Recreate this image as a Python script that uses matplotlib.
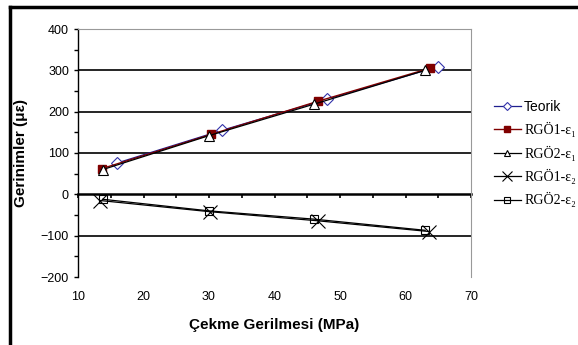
import numpy as np
import matplotlib
matplotlib.use("Agg")
import matplotlib.pyplot as plt
from matplotlib import font_manager
from matplotlib.lines import Line2D

# --- data ---
x_teorik = [16.0, 32.0, 48.0, 65.0]
y_teorik = [76, 155, 230, 309]

x_rgo1_e1 = [13.6, 30.3, 46.6, 63.7]
y_rgo1_e1 = [62, 145, 225, 305]

x_rgo2_e1 = [13.8, 30.0, 46.0, 63.0]
y_rgo2_e1 = [60, 142, 218, 300]

x_rgo1_e2 = [13.4, 30.1, 46.6, 63.6]
y_rgo1_e2 = [-15, -42, -64, -90]

x_rgo2_e2 = [13.8, 30.0, 46.0, 63.0]
y_rgo2_e2 = [-12, -40, -60, -87]

xticks = [10, 20, 30, 40, 50, 60, 70]
yticks = [-200, -100, 0, 100, 200, 300, 400]

names = {f.name for f in font_manager.fontManager.ttflist}
narrow = "Liberation Sans Narrow" if "Liberation Sans Narrow" in names else "Liberation Sans"

fig = plt.figure(figsize=(5.78, 3.45), dpi=100)
ax = fig.add_axes([78 / 578, 68 / 345, 393 / 578, 248 / 345])

ax.plot(x_teorik, y_teorik, color="#1f1f8f", lw=0.9, marker="D", ms=6,
        mfc="white", mec="#3333aa", mew=0.8, label="Teorik", zorder=3)
ax.plot(x_rgo1_e1, y_rgo1_e1, color="#800000", lw=1.0, marker="s", ms=6,
        mfc="#800000", mec="#800000", label="RGÖ1-ε₁", zorder=4)
ax.plot(x_rgo2_e1, y_rgo2_e1, color="black", lw=0.9, marker="^", ms=7,
        mfc="white", mec="black", mew=0.8, label="RGÖ2-ε₁", zorder=5)
ax.plot(x_rgo1_e2, y_rgo1_e2, color="black", lw=0.9, marker="x", ms=10,
        mec="black", mew=0.8, label="RGÖ1-ε₂", zorder=4)
ax.plot(x_rgo2_e2, y_rgo2_e2, color="black", lw=0.9, marker="s", ms=6,
        mfc="none", mec="black", mew=0.8, label="RGÖ2-ε₂", zorder=5)

ax.set_xlim(10, 70)
ax.set_ylim(-200, 400)

# horizontal gridlines
for v in [-100, 100, 200, 300]:
    ax.axhline(v, color="black", lw=1.2, zorder=1)

# spines
ax.spines["left"].set_color("black")
ax.spines["left"].set_linewidth(1.0)
ax.spines["top"].set_color("#999999")
ax.spines["right"].set_color("#999999")
ax.spines["bottom"].set_position(("data", 0))
ax.spines["bottom"].set_linewidth(1.8)
ax.spines["bottom"].set_zorder(2)

ax.set_xticks(np.arange(10, 71, 5))
ax.tick_params(axis="x", direction="out", length=3, width=1.2, labelbottom=False)
ax.set_yticks(yticks)
ax.set_yticks(np.arange(-150, 400, 100), minor=True)
ax.tick_params(axis="y", which="both", direction="out", length=3, width=1.0)
for lab in ax.get_yticklabels():
    lab.set_family(narrow)
    lab.set_fontsize(9)

sec = ax.secondary_xaxis(0)
sec.set_xticks(xticks)
sec.spines["bottom"].set_visible(False)
sec.tick_params(length=0, pad=10)
for lab in sec.get_xticklabels():
    lab.set_family(narrow)
    lab.set_fontsize(9)

sec.set_xlabel("Çekme Gerilmesi (MPa)", fontsize=11, fontweight="bold",
               family="Liberation Sans", labelpad=11)
ax.set_ylabel("Gerinimler (με)", fontsize=11, fontweight="bold",
              family="Liberation Sans", labelpad=9)

leg = fig.legend(loc="upper left", bbox_to_anchor=(488 / 578, 1 - 94 / 345),
                 frameon=False, fontsize=10, handlelength=2.0, handletextpad=0.2,
                 labelspacing=0.6, borderaxespad=0, markerscale=0.7)
for i, t in enumerate(leg.get_texts()):
    if i == 0:
        t.set_family(narrow)
    else:
        t.set_family(["Liberation Serif", "DejaVu Serif"])

# outer frame (left and top visible)
fig.add_artist(Line2D([10 / 578, 10 / 578], [0, 1 - 7 / 345], color="black", lw=2.5))
fig.add_artist(Line2D([10 / 578, 1], [1 - 7 / 345, 1 - 7 / 345], color="black", lw=2.5))

fig.savefig("out.png", dpi=100)
